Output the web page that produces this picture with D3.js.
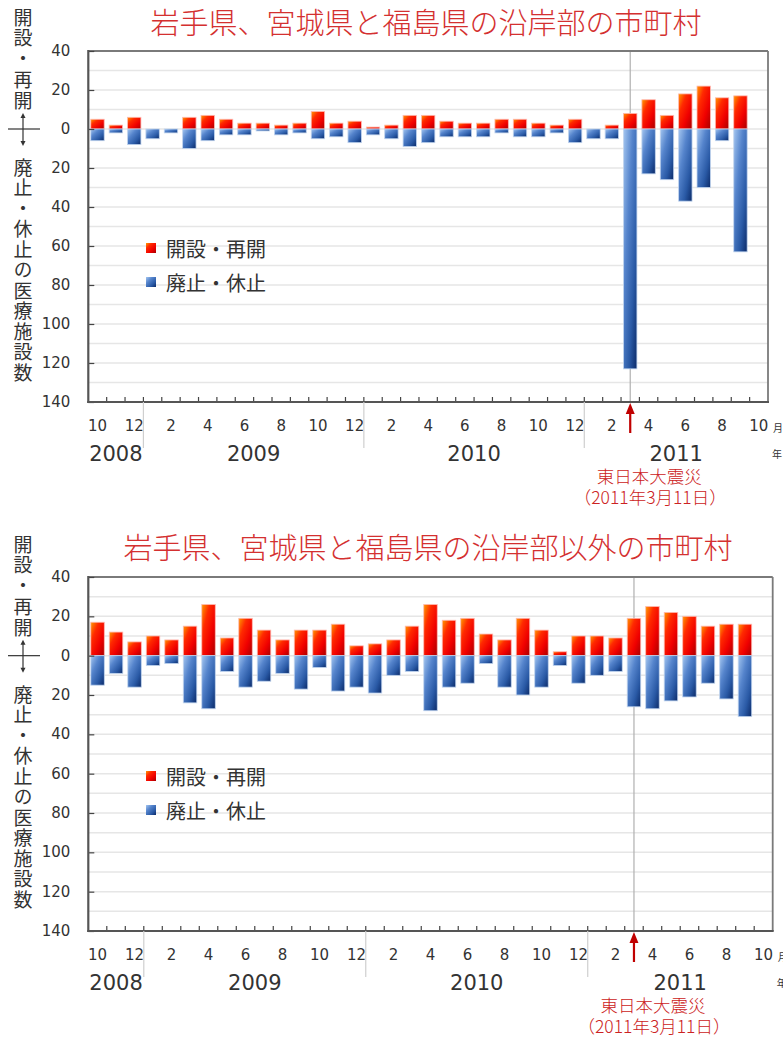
<!DOCTYPE html>
<html><head><meta charset="utf-8">
<script src="https://cdn.jsdelivr.net/npm/d3@7"></script>
<style>
html,body{margin:0;padding:0;background:#fff;}
svg{display:block;}
text{font-family:"Noto Sans CJK JP","DejaVu Sans",sans-serif;}
.num{font-family:"DejaVu Sans",Verdana,sans-serif;}
.vert{writing-mode:vertical-rl;text-orientation:upright;}
</style></head>
<body>
<svg id="c" width="783" height="1039"></svg>
<script>
// ---- data ----
const categories = ["2008/10","2008/11","2008/12",
 "2009/1","2009/2","2009/3","2009/4","2009/5","2009/6","2009/7","2009/8","2009/9","2009/10","2009/11","2009/12",
 "2010/1","2010/2","2010/3","2010/4","2010/5","2010/6","2010/7","2010/8","2010/9","2010/10","2010/11","2010/12",
 "2011/1","2011/2","2011/3","2011/4","2011/5","2011/6","2011/7","2011/8","2011/9","2011/10"];
const monthTickLabels = ["10","","12","","2","","4","","6","","8","","10","","12","","2","","4","","6","","8","","10","","12","","2","","4","","6","","8","","10"];
const years = ["2008","2009","2010","2011"];
const yTicks = [40,20,0,-20,-40,-60,-80,-100,-120,-140];
const titles = ["岩手県、宮城県と福島県の沿岸部の市町村","岩手県、宮城県と福島県の沿岸部以外の市町村"];
const seriesNames = ["開設・再開","廃止・休止"];
// coastal municipalities
const openCoastal  = [5,2,6,0,0,6,7,5,3,3,2,3,9,3,4,1,2,7,7,4,3,3,5,5,3,2,5,0,2,8,15,7,18,22,16,17];
const closeCoastal = [6,2,8,5,2,10,6,3,3,1,3,2,5,4,7,3,5,9,7,4,4,4,2,4,4,2,7,5,5,123,23,26,37,30,6,63];
// other municipalities
const openOther  = [17,12,7,10,8,15,26,9,19,13,8,13,13,16,5,6,8,15,26,18,19,11,8,19,13,2,10,10,9,19,25,22,20,15,16,16];
const closeOther = [15,9,16,5,4,24,27,8,16,13,9,17,6,18,16,19,10,8,28,16,14,4,16,20,16,5,14,10,8,26,27,23,21,14,22,31];
const quakeMonth = "2011/3";
const quakeLabel = ["東日本大震災","（2011年3月11日）"];
const yLabelTop = "開設・再開";
const yLabelBottom = "廃止・休止の医療施設数";

// ---- drawing ----
const svg = d3.select("#c");
const defs = svg.append("defs");
function grad(id, stops){
  const g = defs.append("linearGradient").attr("id",id).attr("x1",0).attr("y1",0).attr("x2",1).attr("y2",1);
  stops.forEach(s=>g.append("stop").attr("offset",s[0]).attr("stop-color",s[1]));
}
grad("gRed",[[0,"#ff9c00"],[0.3,"#ff2a00"],[0.65,"#f00000"],[1,"#a80000"]]);
grad("gBlue",[[0,"#a4c6f0"],[0.35,"#5584cc"],[0.7,"#2a5aa6"],[1,"#0b2a68"]]);

function drawChart(cfg){
  const g = svg.append("g");
  const x = d3.scaleBand().domain(categories).range([cfg.left,cfg.right]).paddingInner(0.27).paddingOuter(0.135);
  const step = x.step();
  const y = d3.scaleLinear().domain([40,-140]).range([cfg.top,cfg.bottom]);
  const y0 = y(0);

  // title
  g.append("text").attr("x",cfg.titleX).attr("y",cfg.titleY).attr("text-anchor","middle")
    .attr("dominant-baseline","central").attr("font-size",29).attr("font-weight",300).attr("fill","#d43030").text(cfg.title);

  // gridlines every 10
  g.append("g").selectAll("line").data(d3.range(30,-141,-10)).join("line")
    .attr("x1",cfg.left).attr("x2",cfg.right).attr("y1",d=>y(d)).attr("y2",d=>y(d))
    .attr("stroke","#e6e6e6").attr("stroke-width",1.5);

  // quake line
  const qx = x(quakeMonth)+x.bandwidth()/2;
  g.append("line").attr("x1",qx).attr("x2",qx).attr("y1",cfg.top).attr("y2",cfg.bottom)
    .attr("stroke","#b0b0b0").attr("stroke-width",1.2);

  // bars
  const data = cfg.open.map((v,i)=>({c:categories[i],o:v,cl:cfg.close[i]}));
  g.append("g").selectAll("rect").data(data.filter(d=>d.o>0)).join("rect")
    .attr("x",d=>x(d.c)).attr("width",x.bandwidth())
    .attr("y",d=>y(d.o)).attr("height",d=>y0-y(d.o))
    .attr("fill","url(#gRed)").attr("stroke","#ffb8b0").attr("stroke-width",0.8);
  g.append("g").selectAll("rect").data(data.filter(d=>d.cl>0)).join("rect")
    .attr("x",d=>x(d.c)).attr("width",x.bandwidth())
    .attr("y",y0).attr("height",d=>y(-d.cl)-y0)
    .attr("fill","url(#gBlue)").attr("stroke","#c0d4ee").attr("stroke-width",0.8);

  // frame
  g.append("line").attr("x1",cfg.left).attr("x2",cfg.right).attr("y1",cfg.top).attr("y2",cfg.top).attr("stroke","#7a7a7a").attr("stroke-width",1.8);
  g.append("line").attr("x1",cfg.right).attr("x2",cfg.right).attr("y1",cfg.top).attr("y2",cfg.bottom).attr("stroke","#7a7a7a").attr("stroke-width",1.8);

  // y axis
  const ya = d3.axisRight(y).tickValues(yTicks).tickSize(6).tickFormat("");
  const yg = g.append("g").attr("transform",`translate(${cfg.left},0)`).call(ya);
  yg.select(".domain").remove();
  yg.selectAll(".tick line").attr("stroke","#444").attr("stroke-width",1.2);
  g.append("g").selectAll("text").data(yTicks).join("text").attr("class","num")
    .attr("x",cfg.left-18).attr("y",d=>y(d)).attr("text-anchor","end").attr("dominant-baseline","central")
    .attr("font-size",15).attr("fill","#333").text(d=>Math.abs(d));
  g.append("line").attr("x1",cfg.left).attr("x2",cfg.left).attr("y1",cfg.top-1).attr("y2",cfg.bottom+1).attr("stroke","#555").attr("stroke-width",2.2);

  // x axis ticks at category boundaries
  const bounds = d3.range(1,categories.length).map(i=>cfg.left+i*step);
  g.append("g").selectAll("line").data(bounds).join("line")
    .attr("x1",d=>d).attr("x2",d=>d).attr("y1",cfg.bottom).attr("y2",cfg.bottom-5)
    .attr("stroke","#444").attr("stroke-width",1.2);
  g.append("line").attr("x1",cfg.left-1).attr("x2",cfg.right+1).attr("y1",cfg.bottom).attr("y2",cfg.bottom).attr("stroke","#555").attr("stroke-width",2.2);

  // month labels
  g.append("g").selectAll("text").data(categories.map((c,i)=>({c,l:monthTickLabels[i]})).filter(d=>d.l)).join("text")
    .attr("class","num").attr("x",d=>x(d.c)+x.bandwidth()/2).attr("y",cfg.bottom+24)
    .attr("text-anchor","middle").attr("dominant-baseline","central").attr("font-size",15).attr("fill","#333").text(d=>d.l);
  g.append("text").attr("x",cfg.right+5).attr("y",cfg.bottom+25).attr("dominant-baseline","central")
    .attr("font-size",10).attr("fill","#333").text("月");
  g.append("text").attr("x",cfg.right+4).attr("y",cfg.bottom+51).attr("dominant-baseline","central")
    .attr("font-size",10).attr("fill","#333").text("年");

  // year separators & labels
  years.forEach((yr,k)=>{
    const idx = categories.map((c,i)=>c.startsWith(yr)?i:-1).filter(i=>i>=0);
    const first = idx[0], last = idx[idx.length-1];
    if(k>0){
      const bx = cfg.left+first*step;
      g.append("line").attr("x1",bx).attr("x2",bx).attr("y1",cfg.bottom).attr("y2",cfg.bottom+46)
        .attr("stroke","#cfcfcf").attr("stroke-width",1.2);
    }
    const cx = cfg.left+((first+last+1)/2)*step;
    g.append("text").attr("class","num").attr("x",k===0?x(categories[1])+x.bandwidth()/2:cx).attr("y",cfg.bottom+52)
      .attr("text-anchor","middle").attr("dominant-baseline","central").attr("font-size",21).attr("fill","#333").text(yr);
  });

  // quake arrow + label
  g.append("line").attr("x1",qx).attr("x2",qx).attr("y1",cfg.bottom+31).attr("y2",cfg.bottom+9)
    .attr("stroke","#c00000").attr("stroke-width",2.2);
  g.append("path").attr("d",`M${qx-4.5},${cfg.bottom+12}L${qx},${cfg.bottom+1}L${qx+4.5},${cfg.bottom+12}Z`).attr("fill","#c00000");
  const qt = g.append("text").attr("text-anchor","middle").attr("font-size",17.5).attr("font-weight",300).attr("fill","#cc2222");
  qt.append("tspan").attr("x",qx+19).attr("y",cfg.bottom+81).text(quakeLabel[0]);
  qt.append("tspan").attr("x",qx+20).attr("y",cfg.bottom+102).text(quakeLabel[1]);

  // legend
  const lg = g.append("g");
  [["url(#gRed)",seriesNames[0],cfg.legendY],["url(#gBlue)",seriesNames[1],cfg.legendY+34]].forEach(([f,t,ly])=>{
    lg.append("rect").attr("x",146).attr("y",ly-5).attr("width",10).attr("height",10).attr("fill",f);
    lg.append("text").attr("x",166).attr("y",ly).attr("dominant-baseline","central").attr("font-size",20).attr("fill","#333").text(t);
  });

  // vertical y-axis label
  const lx = 23;
  g.append("text").attr("class","vert").attr("x",lx).attr("y",cfg.ylabTop)
    .attr("font-size",19).attr("letter-spacing",1.7).attr("fill","#333").text(yLabelTop);
  g.append("text").attr("class","vert").attr("x",lx).attr("y",cfg.ylabBottom)
    .attr("font-size",19).attr("letter-spacing",1.5).attr("fill","#333").text(yLabelBottom);
  // cross arrow
  g.append("line").attr("x1",8).attr("x2",40).attr("y1",y0).attr("y2",y0).attr("stroke","#333").attr("stroke-width",1.2);
  g.append("line").attr("x1",lx).attr("x2",lx).attr("y1",y0-12).attr("y2",y0+14).attr("stroke","#333").attr("stroke-width",1.2);
  g.append("path").attr("d",`M${lx-2.5},${y0-11}L${lx},${y0-16}L${lx+2.5},${y0-11}Z`).attr("fill","#333");
  g.append("path").attr("d",`M${lx-2.5},${y0+12}L${lx},${y0+17}L${lx+2.5},${y0+12}Z`).attr("fill","#333");
}

drawChart({title:titles[0],open:openCoastal,close:closeCoastal,left:88.3,right:768,top:51,bottom:402,
  titleX:426,titleY:21,legendY:248,ylabTop:8,ylabBottom:158});
drawChart({title:titles[1],open:openOther,close:closeOther,left:88.3,right:772.7,top:577,bottom:931,
  titleX:428,titleY:546,legendY:776,ylabTop:535,ylabBottom:685});
</script>
</body></html>
